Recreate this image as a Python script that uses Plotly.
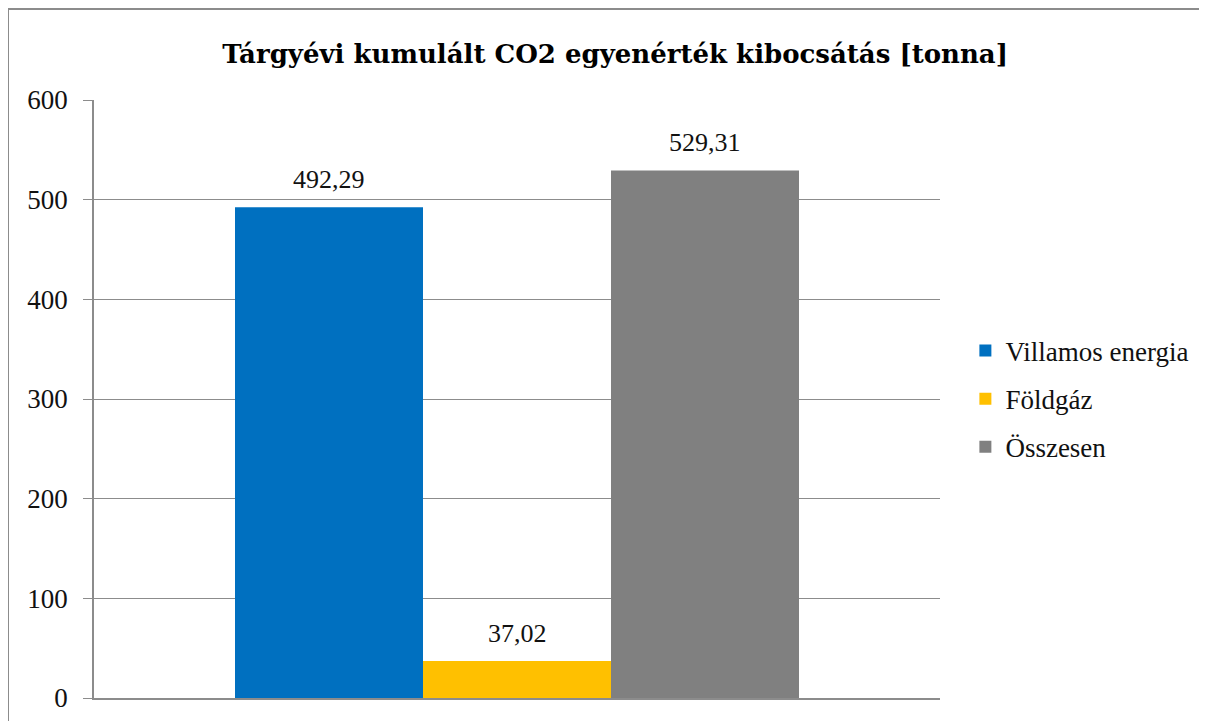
import plotly.graph_objects as go

title = "Tárgyévi kumulált CO2 egyenérték kibocsátás [tonna]"
series = ["Villamos energia", "Földgáz", "Összesen"]
values = [492.29, 37.02, 529.31]
colors = ["#0070C0", "#FFC000", "#808080"]
category = ["CO2"]
y_ticks = [0, 100, 200, 300, 400, 500, 600]

FONT = "Liberation Serif"
TITLE_FONT = "DejaVu Serif"
W, H = 1207, 721
ML, MR, MT, MB = 86, 275, 92, 31
BARGAP = 1 / 3
plot_w = W - ML - MR
bar_px = plot_w * (1 - BARGAP) / len(series)

fig = go.Figure()
for name, v, c in zip(series, values, colors):
    fig.add_trace(go.Bar(
        x=category, y=[v], name=name, legendgroup=name,
        marker=dict(color=c, line=dict(width=0)),
    ))
for i, v in enumerate(values):
    fig.add_annotation(
        x=category[0], y=v, xref="x", yref="y", text=f"{v:.2f}".replace(".", ","),
        showarrow=False, yanchor="bottom", xanchor="center",
        xshift=(i - (len(series) - 1) / 2) * bar_px, yshift=11,
        font=dict(family=FONT, size=26, color="#111111"),
    )

fig.update_layout(
    width=W, height=H,
    margin=dict(l=ML, r=MR, t=MT, b=MB),
    paper_bgcolor="white", plot_bgcolor="white",
    barmode="group", bargap=BARGAP, bargroupgap=0,
    font=dict(family=FONT, size=26, color="#111111"),
    title=dict(text="<b>" + title + "</b>", x=0.503, xanchor="center", y=0.937, yanchor="middle",
               font=dict(family=TITLE_FONT, size=26, color="#000000")),
    legend=dict(x=1.03, xanchor="left", y=0.5, yanchor="middle",
                font=dict(family=FONT, size=27, color="#111111"),
                itemwidth=30, tracegroupgap=10, bgcolor="rgba(0,0,0,0)"),
    showlegend=True,
    xaxis=dict(type="category", range=[-0.5, 0.5], showticklabels=False, showgrid=False,
               showline=True, linecolor="#8c8c8c", linewidth=1.5, ticks="", fixedrange=True),
    yaxis=dict(range=[0, 600], tickvals=y_ticks, showgrid=True, gridcolor="#8c8c8c", gridwidth=1,
               showline=True, linecolor="#8c8c8c", linewidth=1.5, ticks="outside", ticklen=9,
               tickcolor="#8c8c8c", ticklabelstandoff=10, zeroline=False,
               tickfont=dict(family=FONT, size=27, color="#111111")),
)
fig.add_shape(type="rect", xref="paper", yref="paper",
              x0=-ML / plot_w, x1=1.4, y0=-0.2, y1=(698 - 9) / (H - MT - MB),
              line=dict(color="#8c8c8c", width=2), fillcolor="rgba(0,0,0,0)", layer="below")
fig.write_html("out.html")
